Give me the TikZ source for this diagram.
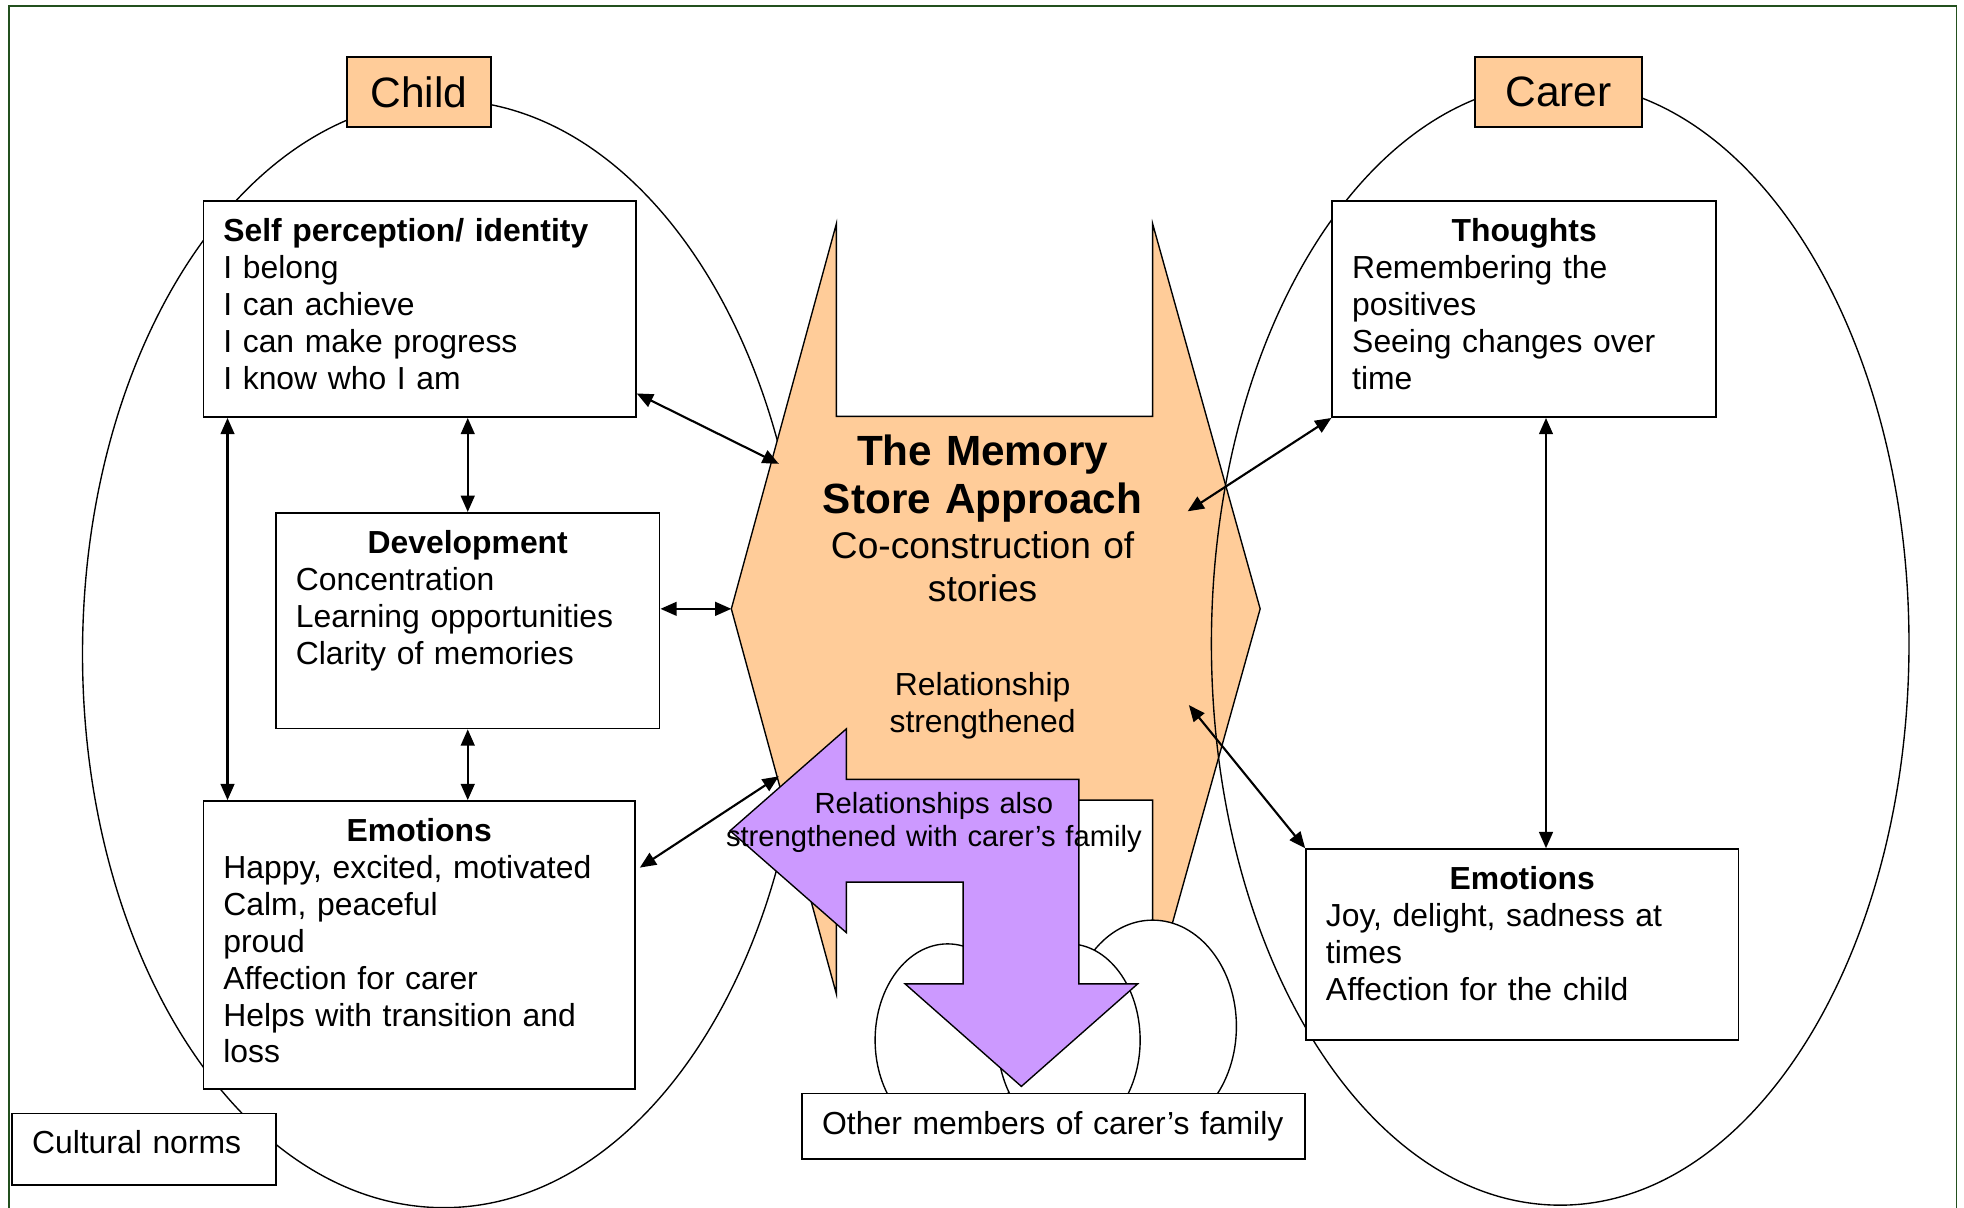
\documentclass[tikz,border=0pt]{standalone}
\usepackage{fontspec}
\setmainfont{Liberation Sans}
\usepackage{tikz}
\usetikzlibrary{arrows.meta}

\definecolor{peach}{HTML}{FFCC99}
\definecolor{lilac}{HTML}{CC99FF}
\definecolor{framegreen}{RGB}{35,80,30}
\newcommand{\bodyfont}{\fontsize{12.75pt}{14.75pt}\selectfont}
\newcommand{\tagfont}{\fontsize{17pt}{20pt}\selectfont}
\newcommand{\titlefont}{\fontsize{16.9pt}{19.5pt}\selectfont\bfseries}
\newcommand{\subfont}{\fontsize{14.85pt}{17.2pt}\selectfont}
\newcommand{\arrowfont}{\fontsize{11.67pt}{13.2pt}\selectfont}

\begin{document}
\begin{tikzpicture}[x=0.5pt, y=-0.5pt,
  infobox/.style={draw, fill=white, line width=0.65pt, anchor=north west,
    inner xsep=8pt, inner ysep=0pt, align=left, font=\bodyfont, text height=16.3pt},
  nametag/.style={draw, fill=peach, line width=0.65pt, anchor=north west,
    inner sep=0pt, minimum height=28pt, font=\tagfont},
  twoway/.style={{Triangle[length=6.5pt,width=5.5pt]}-{Triangle[length=6.5pt,width=5.5pt]}, line width=0.85pt}]
  \useasboundingbox (0,0) rectangle (1571,965.6);

  % Frame
  \draw[framegreen, line width=0.75pt] (7.5,990) -- (7.5,5) -- (1565,5) -- (1565,990);

  % Child ellipse (Left)
  \draw[line width=0.55pt] (355,523) ellipse [x radius=144.5pt, y radius=221.5pt];

  % Memory store shape (Centre)
  \filldraw[fill=peach, line width=0.55pt] (669,179) -- (669,333) -- (922,333) -- (922,179)
    -- (1008,487) -- (922,795) -- (922,640) -- (669,640) -- (669,795) -- (585,487) -- cycle;
  \coordinate (hexL) at (585,487);
  \coordinate (hexUL) at (623,371);
  \coordinate (hexLL) at (623,621);
  \coordinate (hexUR) at (950,409);
  \coordinate (hexLR) at (951,564);

  % Carer ellipse (Right)
  \draw[line width=0.55pt] (1248,515) ellipse [x radius=139.5pt, y radius=224.5pt];

  % Family heads
  \filldraw[fill=white, line width=0.55pt] (922,821) ellipse [x radius=33.5pt, y radius=42.5pt];
  \filldraw[fill=white, line width=0.55pt] (758,832) ellipse [x radius=29pt, y radius=38.5pt];
  \filldraw[fill=white, line width=0.55pt] (855,832) ellipse [x radius=28.5pt, y radius=38.5pt];

  % Bent arrow
  \filldraw[fill=lilac, line width=0.55pt] (584,664.5) -- (677,583) -- (677,623.4) -- (863,623.4)
    -- (863,787) -- (910,787) -- (817,869) -- (724,787) -- (770.4,787) -- (770.4,705.6)
    -- (677,705.6) -- (677,746) -- cycle;

  % Child boxes
  \node[nametag, minimum width=57.5pt] (child) at (277,45) {Child};
  \node[infobox, text width=157pt, text depth=70.2pt] (self) at (162,160)
    {\textbf{Self perception/ identity}\\ I belong\\ I can achieve\\ I can make progress\\ I know who I am};
  \node[infobox, text width=137.5pt, text depth=70pt] (dev) at (220,409.5)
    {{\centering\bfseries Development\par}Concentration\\ Learning opportunities\\ Clarity of memories};
  \node[infobox, text width=156.75pt, text depth=99pt] (emo) at (162,640)
    {{\centering\bfseries Emotions\par}Happy, excited, motivated\\ Calm, peaceful\\ proud\\ Affection for carer\\ Helps with transition and\\ loss};
  \node[infobox, text width=89.5pt, text height=16pt, text depth=12.5pt] (culture) at (9,890) {Cultural norms};

  % Carer boxes
  \node[nametag, minimum width=67pt] (carer) at (1179,45) {Carer};
  \node[infobox, text width=137.5pt, text depth=70.2pt] (thoughts) at (1065,160)
    {{\centering\bfseries Thoughts\par}Remembering the\\ positives\\ Seeing changes over\\ time};
  \node[infobox, text width=157pt, text depth=60pt] (cemo) at (1044,678.5)
    {{\centering\bfseries Emotions\par}Joy, delight, sadness at\\ times\\ Affection for the child};
  \node[infobox, text width=185pt, text height=16.5pt, text depth=9.75pt] (others) at (641,874)
    {Other members of carer’s family};

  % Centre texts
  \node[anchor=base, text width=150pt, align=center, font=\titlefont] (title) at (786,372) {The Memory\\ Store Approach};
  \node[anchor=base, text width=150pt, align=center, font=\subfont] (cocon) at (786,446.4) {Co-construction of\\ stories};
  \node[anchor=base, text width=150pt, align=center, font=\fontsize{12.75pt}{14.9pt}\selectfont] (rel) at (786,556) {Relationship\\ strengthened};
  \node[anchor=base, text width=180pt, align=center, font=\arrowfont] (also) at (747,651) {Relationships also\\ strengthened with carer’s family};

  % Arrows
  \draw[twoway] ([yshift=9.8pt]self.south east) -- (hexUL);
  \draw[twoway] (dev.north |- self.south) -- (dev.north);
  \draw[twoway] ([xshift=10pt]self.south west) -- ([xshift=10pt]emo.north west);
  \draw[twoway] (hexL -| dev.east) -- (hexL);
  \draw[twoway] (dev.south) -- (dev.south |- emo.north);
  \draw[twoway] ([shift={(1.5pt,-27pt)}]emo.north east) -- (hexLL);
  \draw[twoway] (thoughts.south west) -- (hexUR);
  \draw[twoway] ([xshift=9.5pt]cemo.north |- thoughts.south) -- ([xshift=9.5pt]cemo.north);
  \draw[twoway] (hexLR) -- (cemo.north west);
\end{tikzpicture}
\end{document}
